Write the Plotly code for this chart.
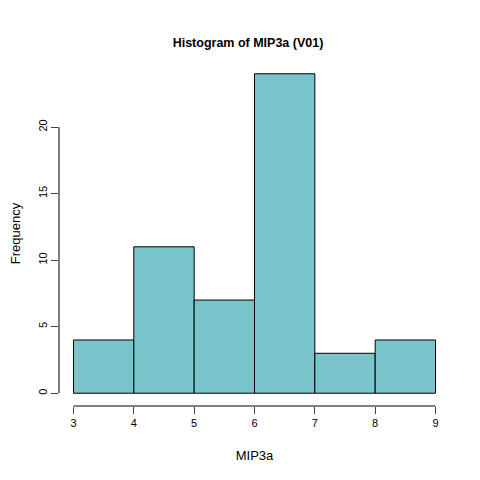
import plotly.graph_objects as go

bin_starts = [3, 4, 5, 6, 7, 8]
counts = [4, 11, 7, 24, 3, 4]
x_ticks = [3, 4, 5, 6, 7, 8, 9]
y_ticks = [0, 5, 10, 15, 20]

fig = go.Figure(go.Bar(
    x=[b + 0.5 for b in bin_starts], y=counts, width=1,
    marker=dict(color="#7AC4CC", line=dict(color="black", width=1)),
))
font = dict(family="Liberation Sans, Arial", size=11, color="black")
fig.update_layout(
    width=480, height=480, showlegend=False,
    plot_bgcolor="white", paper_bgcolor="white", font=font,
    margin=dict(l=51, r=38, t=52.5, b=81.5, autoexpand=False),
    title=dict(text="<b>Histogram of MIP3a (V01)</b>", x=0.5, xanchor="center",
               y=1 - 35/480, yanchor="middle", font=dict(size=12.5)),
    xaxis=dict(range=[2.76, 9.24], tickvals=x_ticks, ticks="outside", ticklen=7,
               showgrid=False, zeroline=False, showline=False, automargin=False,
               title=dict(text="MIP3a", standoff=22)),
    yaxis=dict(range=[-0.96, 24.96], tickvals=y_ticks, ticks="outside", ticklen=7,
               tickangle=-90, showgrid=False, zeroline=False, showline=False, automargin=False,
               title=dict(text="Frequency", standoff=18)),
    shapes=[
        dict(type="line", xref="x", yref="paper", x0=x_ticks[0], x1=x_ticks[-1], y0=0, y1=0,
             line=dict(color="black", width=1)),
        dict(type="line", xref="paper", yref="y", x0=0, x1=0, y0=y_ticks[0], y1=y_ticks[-1],
             line=dict(color="black", width=1)),
    ],
)
fig.write_html("out.html")
